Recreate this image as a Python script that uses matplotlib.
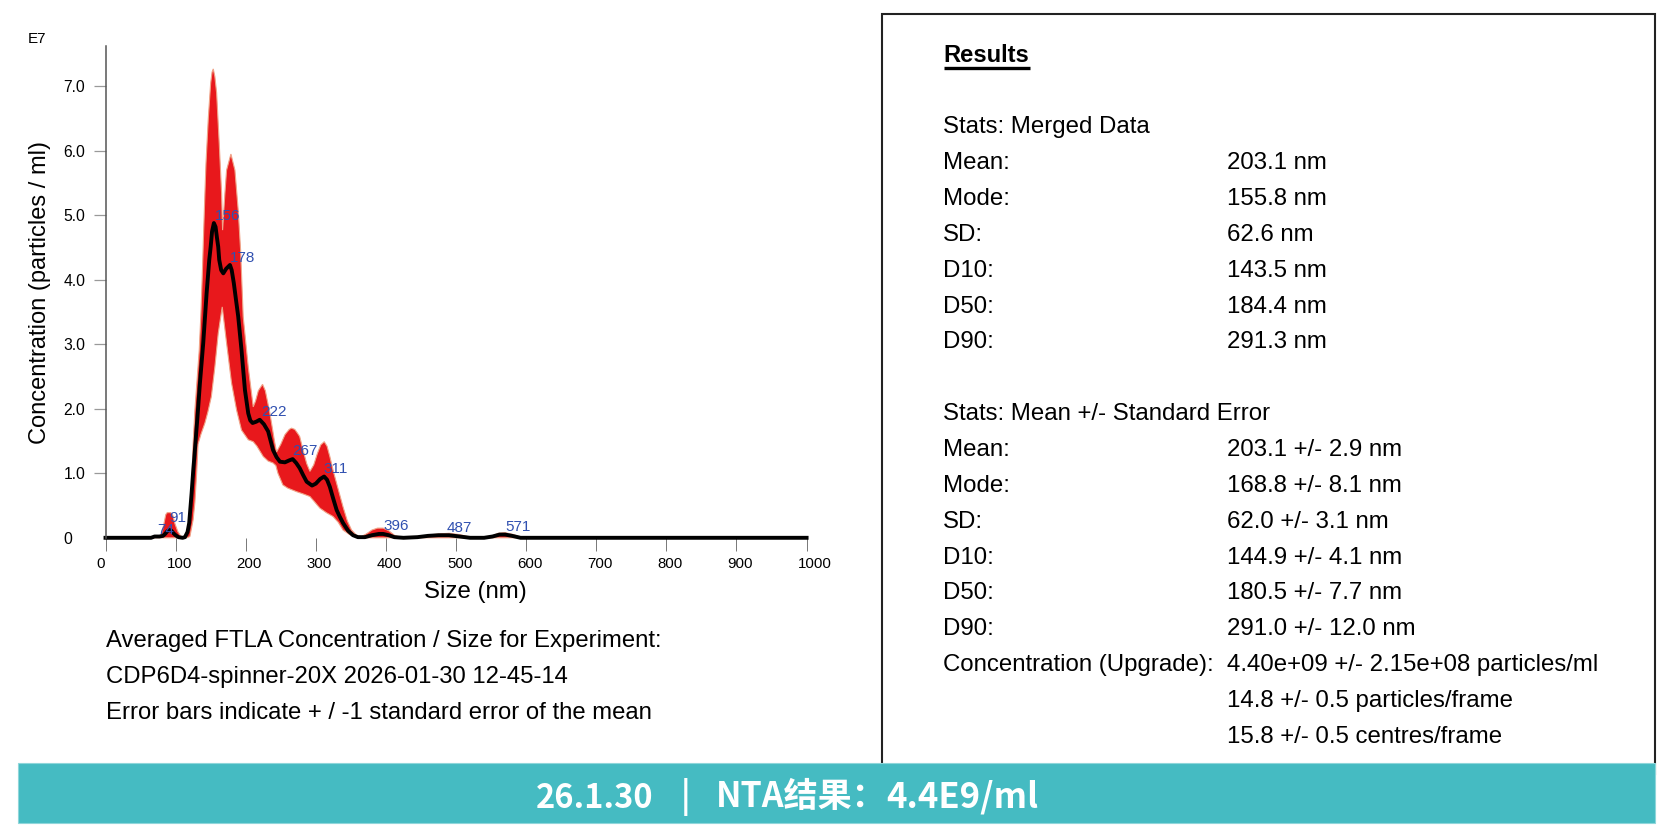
import matplotlib
matplotlib.use("Agg")
import matplotlib.pyplot as plt
from matplotlib.patches import Rectangle
from matplotlib.transforms import ScaledTranslation

plt.rcParams['font.family'] = ['Liberation Sans', 'DejaVu Sans']

W, H = 1671, 840

# curves, size in nm, concentration in E7 particles/ml
mean_x = [0, 65, 70, 77, 82, 85, 88, 91, 94, 97, 100, 104, 110, 113.3, 117, 119.4, 122.8, 125, 127.5, 131, 134.7, 139.4,
          144.2, 148, 150, 152, 154.6, 157, 159, 160.8, 162.2, 165, 168, 172, 177.5, 180, 183, 186, 189.3, 194,
          198.9, 203.6, 206.5, 209.8, 215, 220, 226, 232, 239, 244, 248.8, 255.9, 262, 267, 272, 277, 282,
          286.9, 294.6, 300, 306, 311.8, 316, 320, 325, 329.7, 334, 338.8, 346, 353, 360, 370, 380, 390, 396, 404,
          412, 425, 445, 460, 475, 490, 505, 520, 540, 552, 562, 570, 580, 592, 1000]
mean_y = [0, 0, .02, .02, .03, .06, .1, .12, .11, .07, .04, .01, 0, .01, .09, .23, .69, 1.02, 1.36, 1.85, 2.40, 3.02,
          3.79, 4.31, 4.51, 4.75, 4.88, 4.82, 4.65, 4.51, 4.31, 4.15, 4.10, 4.17, 4.23, 4.15, 3.95, 3.7, 3.43, 2.91,
          2.29, 1.93, 1.82, 1.78, 1.80, 1.83, 1.76, 1.65, 1.36, 1.25, 1.18, 1.17, 1.2, 1.22, 1.16, 1.08, .97,
          .87, .81, .84, .91, .95, .9, .79, .6, .43, .33, .23, .11, .04, .01, .01, .04, .06, .06, .04,
          .01, 0, .01, .03, .04, .04, .02, 0, 0, .02, .05, .05, .03, 0, 0]

upper_x = [0, 60, 68, 76, 80, 83, 86, 88, 93, 96, 99, 103, 107, 112, 116, 120, 123, 125, 127.5, 133.7, 136, 138, 140,
           141.8, 143.3, 146.6, 150, 152, 153.7, 156, 158.5, 162.2, 165.6, 167, 170.3, 172.7, 178.9, 184.6, 189.3,
           192.7, 196.4, 203.6, 210.7, 214, 218, 224, 228, 234.5, 238, 241, 244, 250, 256, 262, 265.4, 270, 274, 277,
           282, 287, 291.6, 297, 302, 307, 312, 316, 320, 325, 332, 338.8, 345, 351, 358, 365, 372, 380, 388, 396,
           404, 412, 420, 430, 445, 460, 475, 490, 505, 520, 540, 552, 560, 570, 582, 592, 610, 1000]
upper_y = [0, 0, .01, .02, .06, .2, .36, .39, .39, .35, .22, .1, .03, 0, .03, .3, .85, 1.46, 1.98, 2.91, 3.45, 4.05, 4.75,
           5.34, 5.8, 6.5, 7.05, 7.22, 7.27, 7.15, 6.9, 6.12, 5.34, 4.77, 5.34, 5.7, 5.95, 5.7, 5.08,
           4.46, 3.43, 2.65, 2.03, 2.12, 2.28, 2.38, 2.28, 1.93, 1.7, 1.5, 1.33, 1.45, 1.6, 1.68, 1.70, 1.68, 1.62, 1.57,
           1.35, 1.15, 1.03, 1.13, 1.3, 1.44, 1.49, 1.42, 1.26, 1.03, .75, .48, .26, .12, .04, .02, .06, .12, .15, .15,
           .11, .04, .01, 0, .01, .04, .06, .07, .05, .01, .01, .03, .07, .08, .05, .01, 0, 0]

lower_x = [0, 116, 120.4, 125, 127.5, 130, 132, 136, 141.8, 146, 151, 156, 160.8, 166.5, 172.7, 179.8,
           187, 194, 203.6, 210.7, 216, 225, 232, 239, 243, 246, 253, 260, 272.6, 282, 291.6, 298,
           305.8, 315, 324.6, 332, 338.8, 348, 358, 372, 1000]
lower_y = [0, 0, .02, .28, .55, 1.0, 1.45, 1.6, 1.78, 1.95, 2.19, 2.65, 3.17, 3.58, 3.02, 2.4,
           1.98, 1.67, 1.52, 1.49, 1.42, 1.26, 1.19, 1.16, 1.12, 1.0, .82, .77, .715, .68, .64, .56,
           .46, .39, .33, .24, .12, .05, .01, 0, 0]

peak_sizes = [74, 91, 156, 178, 222, 267, 311, 396, 487, 571]
peak_heights = [.01, .19, 4.87, 4.22, 1.83, 1.22, .95, .06, .04, .05]

x_ticks = [0, 100, 200, 300, 400, 500, 600, 700, 800, 900, 1000]
y_ticks = [0, 1, 2, 3, 4, 5, 6, 7]
y_labels = ['0', '1.0', '2.0', '3.0', '4.0', '5.0', '6.0', '7.0']

caption = ['Averaged FTLA Concentration / Size for Experiment:',
           'CDP6D4-spinner-20X 2026-01-30 12-45-14',
           'Error bars indicate + / -1 standard error of the mean']

stat_names = ['Stats: Merged Data', 'Mean:', 'Mode:', 'SD:', 'D10:', 'D50:', 'D90:', '',
              'Stats: Mean +/- Standard Error', 'Mean:', 'Mode:', 'SD:', 'D10:', 'D50:', 'D90:',
              'Concentration (Upgrade):', '', '']
stat_values = ['', '203.1 nm', '155.8 nm', '62.6 nm', '143.5 nm', '184.4 nm', '291.3 nm', '',
               '', '203.1 +/- 2.9 nm', '168.8 +/- 8.1 nm', '62.0 +/- 3.1 nm', '144.9 +/- 4.1 nm',
               '180.5 +/- 7.7 nm', '291.0 +/- 12.0 nm', '4.40e+09 +/- 2.15e+08 particles/ml',
               '14.8 +/- 0.5 particles/frame', '15.8 +/- 0.5 centres/frame']

fig = plt.figure(figsize=(W / 100, H / 100), dpi=100, facecolor='white')

# page layer in pixel coordinates for the text and boxes
page = fig.add_axes([0, 0, 1, 1])
page.set_xlim(0, W)
page.set_ylim(H, 0)
page.axis('off')

page.add_patch(Rectangle((882, 14), 773, 760, facecolor='white', edgecolor='#222222', linewidth=1.5))
page.add_patch(Rectangle((18, 762.5), 1637, 60, facecolor='#45bbc2', edgecolor='#8fd6da', linewidth=0.8, zorder=3))

page.text(943.5, 62, 'Results', fontsize=17.1, fontweight='bold', color='black')
page.plot([943.5, 1030], [67.7, 67.7], color='black', linewidth=2.4, solid_capstyle='butt')

for i, (name, value) in enumerate(zip(stat_names, stat_values)):
    y = 133.4 + i * 35.85
    page.text(943.3, y, name, fontsize=17.3, color='black')
    page.text(1227, y, value, fontsize=17.3, color='black')

for i, line in enumerate(caption):
    page.text(106.5, 647 + i * 36, line, fontsize=17.2, color='black')

page.text(40.5, 292, 'Concentration (particles / ml)', fontsize=17, rotation=90, ha='center', va='center')
page.text(475.7, 591.7, 'Size (nm)', fontsize=17.3, ha='center', va='center')
page.text(28, 39, 'E7', fontsize=11, ha='left', va='center')

# banner pieces, the original has wide letter spacing
banner_font = ['Noto Sans CJK SC', 'DejaVu Sans']
for bx, piece, size in [(536, '26.1.30', 23.5), (680.5, '|', 23.5), (716, 'NTA结果：', 24.5), (886.5, '4.4E9/ml', 25)]:
    page.text(bx, 807.5, piece, color='white', fontsize=size, fontweight='bold', ha='left', va='baseline',
              family=banner_font, zorder=4)

# chart
y_top = (537.8 - 46) / 64.5
ax = fig.add_axes([105.5 / W, (H - 537.8) / H, 701.1 / W, (537.8 - 46) / H])
ax.patch.set_alpha(0)
ax.set_xlim(0, 1000)
ax.set_ylim(0, y_top)

ax.fill(upper_x + lower_x[::-1], upper_y + lower_y[::-1], facecolor='#e8181c', edgecolor='#f0a488',
        linewidth=0.8, clip_on=False)
ax.plot(mean_x, mean_y, color='black', linewidth=2.8, clip_on=False, solid_joinstyle='round')

for size, height in zip(peak_sizes, peak_heights):
    ax.annotate(str(size), (size, height), xytext=(0, 2.6), textcoords='offset points', ha='left', va='baseline',
                fontsize=11, color='#3050b0', annotation_clip=False)

for name in ['top', 'right', 'bottom']:
    ax.spines[name].set_visible(False)
ax.spines['left'].set_color('#555555')
ax.spines['left'].set_linewidth(1.1)

ax.set_xticks(x_ticks)
ax.set_xticklabels([str(t) for t in x_ticks])
ax.set_yticks(y_ticks)
ax.set_yticklabels(y_labels)
ax.tick_params(axis='x', length=9, width=0.7, color='#777777', labelsize=10.8, pad=4.5)
ax.tick_params(axis='y', length=8.6, width=0.9, color='#999999', labelsize=11.3, pad=21.5)
ax.yaxis.get_major_ticks()[0].tick1line.set_visible(False)

for label in ax.get_yticklabels():
    label.set_horizontalalignment('left')
for label, dx in zip(ax.get_xticklabels(), [-5, 3.5, 3.5, 3.5, 3.5, 3.5, 3.5, 3.5, 3.9, 3.9, 8.5]):
    label.set_transform(label.get_transform() + ScaledTranslation(dx / 100, 0, fig.dpi_scale_trans))

fig.savefig('out.png', dpi=100)
